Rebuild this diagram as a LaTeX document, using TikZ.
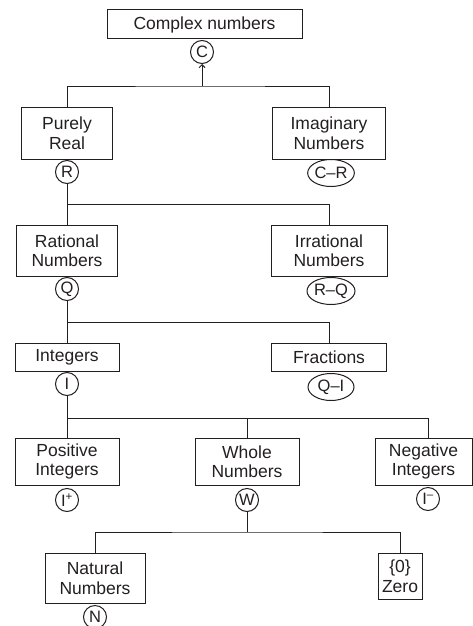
\documentclass[tikz,border=0pt]{standalone}
\usepackage{fontspec}
\setmainfont{Liberation Sans}
\usepackage{xcolor}
\usetikzlibrary{arrows.meta,shapes.geometric,calc}
\definecolor{numink}{HTML}{231F20}

\begin{document}
\begin{tikzpicture}[x=1pt, y=-1pt,
  font=\fontsize{17.5}{19.5}\selectfont, text=numink,
  set/.style={draw=numink, line width=1pt, align=center, inner sep=0pt},
  tag/.style={draw=numink, circle, line width=1pt, inner sep=0pt,
              minimum size=23pt, font=\fontsize{16.5}{16.5}\selectfont},
  oval/.style={draw=numink, ellipse, line width=1pt, inner sep=0pt,
               minimum width=46pt, minimum height=27pt,
               font=\fontsize{16.5}{16.5}\selectfont},
  lk/.style={draw=numink, line width=1pt},
]
\useasboundingbox (0,0) rectangle (473,626);
% Top
\node[set, minimum width=195pt, minimum height=29pt] (cplx) at (204.5,24.5) {Complex numbers};
\node[tag] (tC) at (202,52) {C};
\coordinate (j1) at (202,86);
% Real / imaginary
\node[set, minimum width=91pt, minimum height=52pt] (real) at (67,133) {Purely\\Real};
\node[set, minimum width=113pt, minimum height=52pt] (imag) at (329,133) {Imaginary\\Numbers};
\node[tag] (tR) at (67,172) {R};
\node[oval] (tCR) at (331,173) {C--R};
\draw[lk, -{Straight Barb[length=3pt,width=6pt]}] (j1) -- (tC);
\draw[lk] (real.north) |- (j1) -| (imag.north);
% Rational / irrational
\coordinate (j2) at (67,204);
\node[set, minimum width=101pt, minimum height=51pt] (rat) at (67,250.5) {Rational\\Numbers};
\node[set, minimum width=116pt, minimum height=51pt] (irr) at (329,250.5) {Irrational\\Numbers};
\node[tag] (tQ) at (67,289) {Q};
\node[oval] (tRQ) at (331,291) {R--Q};
\draw[lk] (tR) -- (rat);
\draw[lk] (j2) -| (irr.north);
% Integers / fractions
\coordinate (j3) at (67,322);
\node[set, minimum width=104pt, minimum height=28pt] (intg) at (67,357) {Integers};
\node[set, minimum width=115pt, minimum height=28pt] (frac) at (329,357) {Fractions};
\node[tag] (tI) at (67,384) {I};
\node[oval] (tQI) at (331,387) {Q--I};
\draw[lk] (tQ) -- (intg);
\draw[lk] (j3) -| (frac.north);
% Signs
\coordinate (j4) at (67,418);
\node[set, minimum width=104pt, minimum height=47pt] (pos) at (67,461.5) {Positive\\Integers};
\node[set, minimum width=104pt, minimum height=47pt] (whole) at (247,461.5) {Whole\\Numbers};
\node[set, minimum width=97pt, minimum height=47pt] (neg) at (423.5,461.5) {Negative\\Integers};
\node[tag] (tIp) at (67,500) {I\textsuperscript{+}};
\node[tag] (tW) at (247,500) {W};
\node[tag] (tIm) at (428,499) {I\textsuperscript{--}};
\draw[lk] (tI) -- (pos);
\draw[lk] (j4) -| (whole.north);
\draw[lk] (j4) -| (tIm |- neg.north);
% Whole numbers
\coordinate (j5) at (247,532);
\node[set, minimum width=100pt, minimum height=50pt] (nat) at (95,578) {Natural\\Numbers};
\node[set, minimum width=44pt, minimum height=46pt] (zero) at (400,576) {\{0\}\\Zero};
\node[tag] (tN) at (95,617) {N};
\draw[lk] (tW) -- (j5);
\draw[lk] (nat.north) |- (j5) -| (zero.north);
\end{tikzpicture}
\end{document}
